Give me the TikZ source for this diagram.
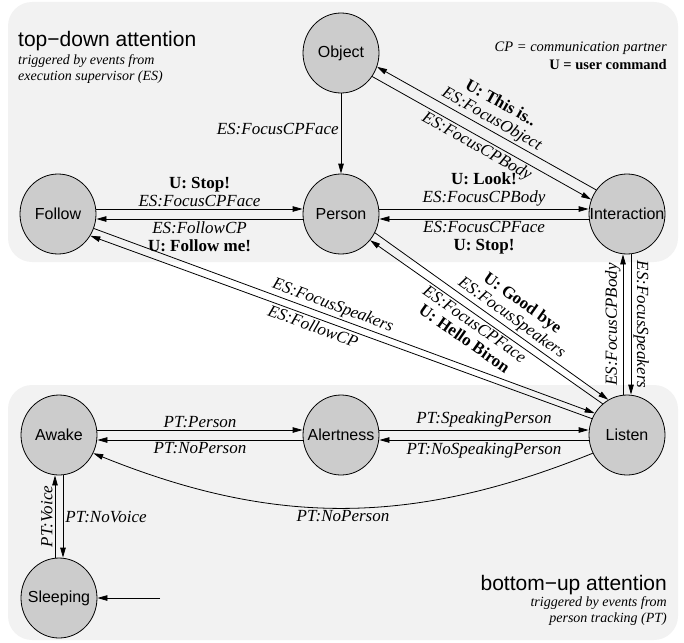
\documentclass[tikz,border=0pt]{standalone}
\usepackage{fontspec}
\setmainfont{Liberation Serif}
\setsansfont{Liberation Sans}
\usetikzlibrary{shapes.geometric,arrows.meta}

\newcommand{\ucmd}[1]{{\upshape\bfseries #1}}

\begin{document}
\begin{tikzpicture}[x=1pt,y=-1pt,
    state/.style={ellipse, draw, line width=0.8pt, fill=black!20, inner sep=0pt,
      minimum width=76pt, minimum height=80pt,
      label={[font=\sffamily\fontsize{16}{17}\selectfont]center:#1}},
    tr/.style={line width=0.8pt, -{Triangle[length=10pt,width=5.5pt]}},
    lbl/.style={font=\fontsize{17}{18}\selectfont\itshape, inner sep=2pt, align=center},
    region/.style={fill=black!5, rounded corners=24pt},
    title/.style={font=\sffamily\fontsize{21}{22}\selectfont, inner sep=0pt},
    subtitle/.style={font=\fontsize{14}{16}\selectfont\itshape, inner sep=0pt}]
  \useasboundingbox (0,0) rectangle (684,642);

  % the two attention areas
  \fill[region] (8,2) rectangle (678,262);
  \fill[region] (8,385) rectangle (678,640);

  \node[title, anchor=base west] (tdtitle) at (18,47) {top−down attention};
  \node[subtitle, anchor=north west, align=left] (tdsub) at (18,54)
    {triggered by events from\\execution supervisor (ES)};
  \node[subtitle, anchor=base east, font=\fontsize{14.5}{16}\selectfont\itshape] (cpkey) at (667,52)
    {CP = communication partner};
  \node[subtitle, anchor=base east, font=\fontsize{14.5}{16}\selectfont\bfseries] (ukey) at (667,70)
    {U = user command};
  \node[title, anchor=base east] (butitle) at (667,590) {bottom−up attention};
  \node[subtitle, anchor=north east, align=right] (busub) at (667,596)
    {triggered by events from\\person tracking (PT)};

  % states
  \node[state=Object] (object) at (341,53) {};
  \node[state=Follow] (follow) at (58,214) {};
  \node[state=Person] (person) at (341,214) {};
  \node[state=Interaction] (interaction) at (627,214) {};
  \node[state=Awake] (awake) at (59,435) {};
  \node[state=Alertness] (alertness) at (341,435) {};
  \node[state=Listen] (listen) at (627,435) {};
  \node[state=Sleeping] (sleeping) at (59,598) {};
  \coordinate (start) at (160,598);

  % top-down transitions
  \draw[tr] (object) -- node[lbl, left, pos=0.45] {ES:FocusCPFace} (person);
  \draw[tr] ([yshift=5pt]follow.east) -- node[lbl, above] {\ucmd{U: Stop!}\\ES:FocusCPFace} ([yshift=5pt]person.west);
  \draw[tr] ([yshift=-5pt]person.west) -- node[lbl, below] {ES:FollowCP\\\ucmd{U: Follow me!}} ([yshift=-5pt]follow.east);
  \draw[tr] ([yshift=5pt]person.east) -- node[lbl, above] {\ucmd{U: Look!}\\ES:FocusCPBody} ([yshift=5pt]interaction.west);
  \draw[tr] ([yshift=-5pt]interaction.west) -- node[lbl, below] {ES:FocusCPFace\\\ucmd{U: Stop!}} ([yshift=-5pt]person.east);
  \draw[tr] (interaction.142) -- node[lbl, above, sloped, pos=0.5] {\ucmd{U: This is..}\\ES:FocusObject} (object.-21);
  \draw[tr] (object.-37) -- node[lbl, below, sloped, pos=0.5] {ES:FocusCPBody} (interaction.158);
  \draw[tr] (person.-29) -- node[lbl, above, sloped, pos=0.56] {\ucmd{U: Good bye}\\ES:FocusSpeakers} (listen.118);
  \draw[tr] (listen.128) -- node[lbl, below, sloped, pos=0.53] {ES:FocusCPFace\\\ucmd{U: Hello Biron}} (person.-42);
  \draw[tr] (follow.-22) -- node[lbl, above, sloped, pos=0.47] {ES:FocusSpeakers} (listen.146);
  \draw[tr] (listen.155) -- node[lbl, below, sloped, pos=0.55] {ES:FollowCP} (follow.-34);
  \draw[tr] ([xshift=-4pt]listen.north) -- node[lbl, above, sloped] {ES:FocusCPBody} ([xshift=-4pt]interaction.south);
  \draw[tr] ([xshift=4pt]interaction.south) -- node[lbl, above, sloped] {ES:FocusSpeakers} ([xshift=4pt]listen.north);

  % bottom-up transitions
  \draw[tr] ([yshift=5pt]awake.east) -- node[lbl, above] {PT:Person} ([yshift=5pt]alertness.west);
  \draw[tr] ([yshift=-5pt]alertness.west) -- node[lbl, below] {PT:NoPerson} ([yshift=-5pt]awake.east);
  \draw[tr] ([yshift=5pt]alertness.east) -- node[lbl, above] {PT:SpeakingPerson} ([yshift=5pt]listen.west);
  \draw[tr] ([yshift=-5pt]listen.west) -- node[lbl, below] {PT:NoSpeakingPerson} ([yshift=-5pt]alertness.east);
  \draw[tr] (listen.208) to[bend left=22] node[lbl, below] {PT:NoPerson} (awake.-28);
  \draw[tr] ([xshift=-4pt]sleeping.north) -- node[lbl, above, sloped] {PT:Voice} ([xshift=-4pt]awake.south);
  \draw[tr] ([xshift=4pt]awake.south) -- node[lbl, right] {PT:NoVoice} ([xshift=4pt]sleeping.north);
  \draw[tr] (start) -- (sleeping.east);
\end{tikzpicture}
\end{document}
